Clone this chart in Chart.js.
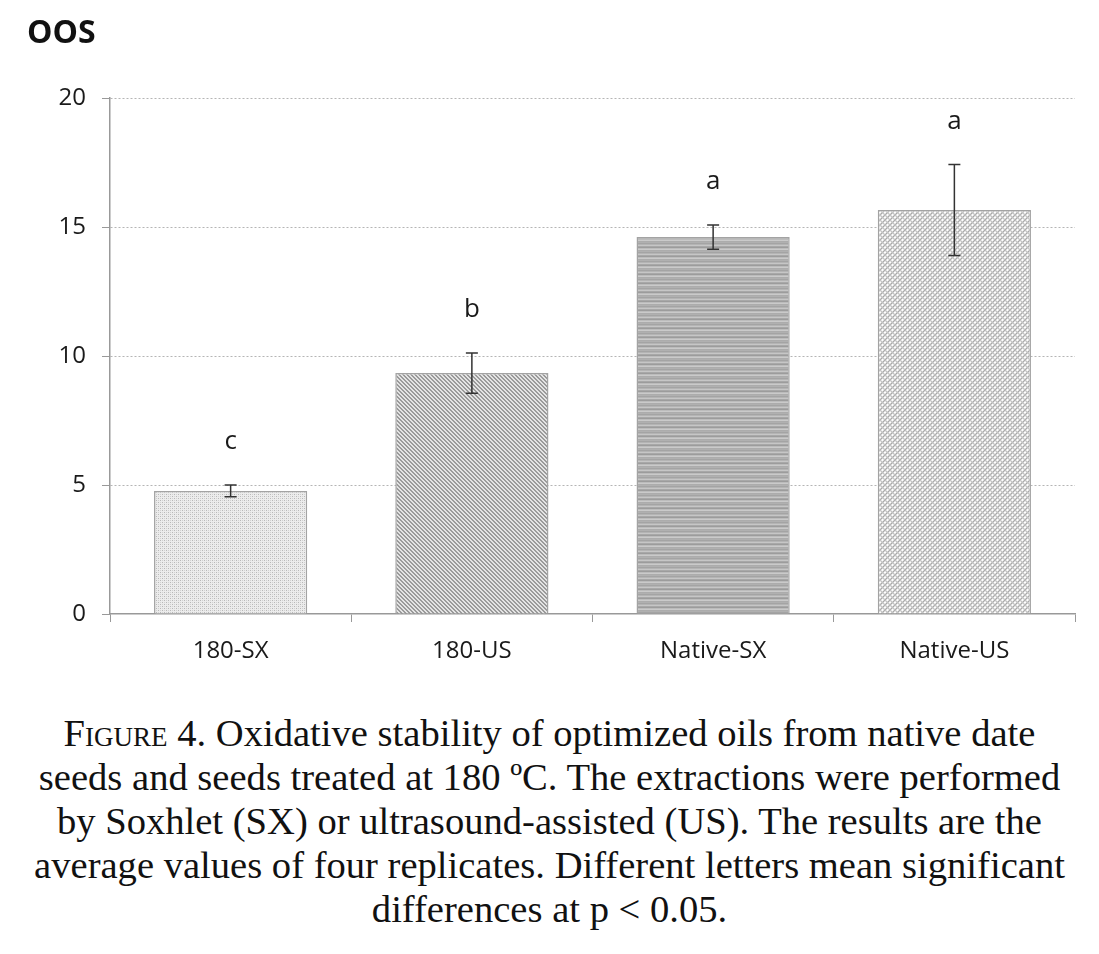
<!DOCTYPE html>
<html>
<head>
<meta charset="utf-8">
<script src="https://cdn.jsdelivr.net/npm/chart.js@4.4.1/dist/chart.umd.min.js"></script>
<style>
    body { margin: 0; background: #fff; }
    #wrap { position: relative; width: 1099px; height: 690px; }
    #caption {
        width: 1099px;
        margin-top: 21px;
        text-align: center;
        font-family: 'Liberation Serif', 'DejaVu Serif', serif;
        font-size: 38.6px;
        line-height: 44px;
        color: #111;
        white-space: nowrap;
    }
    #caption .sc { font-variant: small-caps; }
</style>
</head>
<body>
<div id="wrap"><canvas id="oos-chart"></canvas></div>
<div id="caption"><span class="sc">Figure</span> 4. Oxidative stability of optimized oils from native date<br>seeds and seeds treated at 180 ºC. The extractions were performed<br>by Soxhlet (SX) or ultrasound-assisted (US). The results are the<br>average values of four replicates. Different letters mean significant<br>differences at p &lt; 0.05.</div>
<script>
// Data
const categories = ['180-SX', '180-US', 'Native-SX', 'Native-US'];
const oosValues = [4.77, 9.34, 14.61, 15.66];
const oosErrors = [0.23, 0.78, 0.47, 1.76];
const groupLetters = ['c', 'b', 'a', 'a'];
const yTicks = [0, 5, 10, 15, 20];

const labelFont = "'Open Sans', 'Noto Sans', sans-serif";

// Fill patterns for the bars
function makePattern(kind) {
    const c = document.createElement('canvas');
    const g = c.getContext('2d');
    if (kind === 'dots') {
        c.width = 4; c.height = 4;
        g.fillStyle = '#ececec';
        g.fillRect(0, 0, 4, 4);
        g.fillStyle = '#b8b8b8';
        g.fillRect(0, 0, 1, 1);
        g.fillRect(2, 2, 1, 1);
        g.fillStyle = '#d2d2d2';
        g.fillRect(2, 0, 1, 1);
        g.fillRect(0, 2, 1, 1);
    } else if (kind === 'diagonal') {
        c.width = 4; c.height = 4;
        g.fillStyle = '#e4e4e4';
        g.fillRect(0, 0, 4, 4);
        g.fillStyle = '#9a9a9a';
        for (let i = 0; i < 4; i++) {
            g.fillRect(i, i, 1, 1);
            g.fillRect((i + 1) % 4, i, 1, 1);
        }
    } else if (kind === 'stripes') {
        c.width = 4; c.height = 9;
        const shades = ['#a4a4a4', '#b4b4b4', '#c6c6c6', '#a8a8a8', '#9c9c9c', '#bcbcbc', '#cacaca', '#acacac', '#b0b0b0'];
        shades.forEach((s, i) => { g.fillStyle = s; g.fillRect(0, i, 4, 1); });
    } else {
        c.width = 10; c.height = 10;
        g.fillStyle = '#ffffff';
        g.fillRect(0, 0, 10, 10);
        g.strokeStyle = '#a8a8a8';
        g.lineWidth = 1.3;
        g.beginPath();
        for (let o = -10; o <= 20; o += 5) {
            g.moveTo(o, 10); g.lineTo(o + 10, 0);
        }
        g.stroke();
        g.strokeStyle = '#c4c4c4';
        g.beginPath();
        for (let o = -10; o <= 20; o += 5) {
            g.moveTo(o, 0); g.lineTo(o + 10, 10);
        }
        g.stroke();
    }
    return g.createPattern(c, 'repeat');
}

const barFills = [makePattern('dots'), makePattern('diagonal'), makePattern('stripes'), makePattern('cross')];

// Error bars and significance letters
const errorBarPlugin = {
    id: 'errorBars',
    afterDatasetsDraw(chart) {
        const ctx = chart.ctx;
        const meta = chart.getDatasetMeta(0);
        const y = chart.scales.y;
        ctx.save();
        meta.data.forEach((bar, i) => {
            const top = y.getPixelForValue(oosValues[i] + oosErrors[i]);
            const bottom = y.getPixelForValue(oosValues[i] - oosErrors[i]);
            ctx.strokeStyle = '#333';
            ctx.lineWidth = 1.5;
            ctx.beginPath();
            ctx.moveTo(bar.x, top); ctx.lineTo(bar.x, bottom);
            ctx.moveTo(bar.x - 6, top); ctx.lineTo(bar.x + 6, top);
            ctx.moveTo(bar.x - 6, bottom); ctx.lineTo(bar.x + 6, bottom);
            ctx.stroke();
            ctx.fillStyle = '#1a1a1a';
            ctx.font = '26px ' + labelFont;
            ctx.textAlign = 'center';
            ctx.textBaseline = 'middle';
            ctx.fillText(groupLetters[i], bar.x, top - 43);
        });
        // axis title in the top-left corner
        ctx.font = 'bold 32px ' + labelFont;
        ctx.textAlign = 'left';
        ctx.textBaseline = 'middle';
        ctx.fillStyle = '#111';
        ctx.fillText('OOS', 27, 34);
        ctx.restore();
    }
};

new Chart(document.getElementById('oos-chart'), {
    type: 'bar',
    data: {
        labels: categories,
        datasets: [{
            data: oosValues,
            backgroundColor: barFills,
            borderColor: '#a3a3a3',
            borderWidth: 1.5,
            categoryPercentage: 1,
            barPercentage: 0.635
        }]
    },
    options: {
        responsive: true,
        maintainAspectRatio: false,
        animation: false,
        layout: {
            padding: { top: 98, right: 24, bottom: 0, left: 0 }
        },
        plugins: {
            legend: { display: false },
            tooltip: { enabled: false }
        },
        scales: {
            x: {
                grid: {
                    offset: true,
                    drawOnChartArea: false,
                    drawTicks: true,
                    tickLength: 8,
                    tickColor: '#999'
                },
                border: { color: '#999', width: 1.5 },
                ticks: {
                    color: '#1a1a1a',
                    font: { family: labelFont, size: 24 },
                    padding: 15
                },
                afterFit(scale) { scale.height = 76; }
            },
            y: {
                min: 0,
                max: 20,
                afterBuildTicks(scale) {
                    scale.ticks = yTicks.map(v => ({ value: v }));
                },
                grid: {
                    color: ctx => ctx.tick && ctx.tick.value === 0 ? 'rgba(0,0,0,0)' : '#b5b5b5',
                    lineWidth: 1,
                    drawTicks: true,
                    tickLength: 8,
                    tickColor: '#999',
                    tickBorderDash: []
                },
                border: { color: '#999', width: 1.5, dash: [2, 2] },
                ticks: {
                    color: '#1a1a1a',
                    font: { family: labelFont, size: 24 },
                    padding: 16
                },
                afterFit(scale) { scale.width = 110; }
            }
        }
    },
    plugins: [errorBarPlugin]
});
</script>
</body>
</html>
